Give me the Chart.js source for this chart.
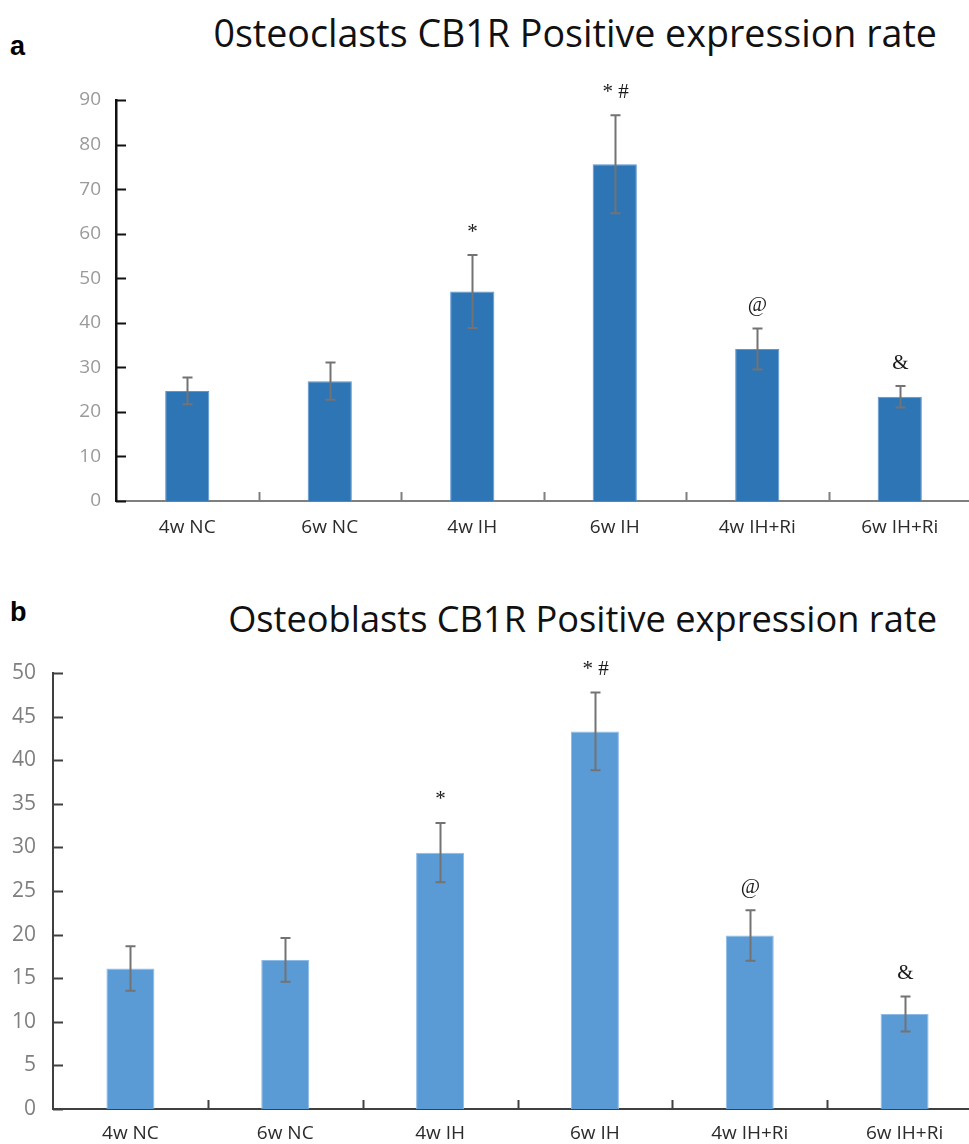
<!DOCTYPE html>
<html>
<head>
<meta charset="utf-8">
<script src="https://cdn.jsdelivr.net/npm/chart.js@4.4.1/dist/chart.umd.min.js"></script>
<style>
  html, body { margin:0; padding:0; width:969px; height:1144px; overflow:hidden; background:#fff; }
  .panel { position:absolute; left:0; }
  .letter { position:absolute; left:10px; font-family:"Liberation Sans", Arial, sans-serif; font-weight:bold; font-size:27px; color:#000; line-height:1; }
  .title { position:absolute; left:0; width:937px; text-align:right; font-family:"Open Sans", sans-serif; font-weight:400; color:#111; line-height:1; white-space:nowrap; }
</style>
</head>
<body>
<div class="letter" style="top:33px;">a</div>
<div class="title" id="titleA">0steoclasts CB1R Positive expression rate</div>
<div class="panel" style="top:0;"><canvas id="chartA" width="971" height="560"></canvas></div>

<div class="letter" style="top:599px;">b</div>
<div class="title" id="titleB">Osteoblasts CB1R Positive expression rate</div>
<div class="panel" style="top:572px;"><canvas id="chartB" width="982" height="572"></canvas></div>

<script>
// ---- data ----
const categories = ['4w NC', '6w NC', '4w IH', '6w IH', '4w IH+Ri', '6w IH+Ri'];
const osteoclastMeans  = [24.7, 26.9, 47.0, 75.6, 34.1, 23.4];
const osteoclastErrors = [3.0, 4.2, 8.2, 11.0, 4.6, 2.4];
const osteoclastMarks  = ['', '', '*', '* #', '@', '&'];
const osteoclastAxisMax = 90, osteoclastStep = 10;

const osteoblastMeans  = [16.1, 17.1, 29.4, 43.3, 19.9, 10.9];
const osteoblastErrors = [2.55, 2.5, 3.4, 4.45, 2.9, 2.0];
const osteoblastMarks  = ['', '', '*', '* #', '@', '&'];
const osteoblastAxisMax = 50, osteoblastStep = 5;

// ---- titles ----
function fitTitle(id, width, centerY) {
  const el = document.getElementById(id);
  const c = document.createElement('canvas').getContext('2d');
  c.font = '100px "Open Sans"';
  const w = c.measureText(el.textContent).width;
  const size = 100 * width / w;
  el.style.fontSize = size + 'px';
  el.style.top = (centerY - size * 0.55) + 'px';
}
fitTitle('titleA', 724, 35);
fitTitle('titleB', 709, 620);

// ---- decorations plugin: inward ticks, error bars, significance marks ----
const decor = {
  id: 'decor',
  afterDraw(chart, args, o) {
    const {ctx, scales: {x, y}} = chart;
    const means = chart.data.datasets[0].data;
    ctx.save();
    // y ticks (inward)
    ctx.strokeStyle = o.yTickColor; ctx.lineWidth = o.yTickWidth;
    y.ticks.forEach((t, i) => {
      const py = Math.round(y.getPixelForTick(i)) + 0.5;
      ctx.beginPath(); ctx.moveTo(y.right, py); ctx.lineTo(y.right + o.tickLen, py); ctx.stroke();
    });
    // x ticks at category boundaries (upward)
    ctx.strokeStyle = o.xTickColor; ctx.lineWidth = o.xTickWidth;
    const step = x.getPixelForValue(1) - x.getPixelForValue(0);
    for (let i = 1; i <= means.length; i++) {
      const bx = Math.round(x.getPixelForValue(i - 1) + step / 2) + 0.5;
      ctx.beginPath(); ctx.moveTo(bx, y.bottom); ctx.lineTo(bx, y.bottom - o.xTickLen); ctx.stroke();
    }
    // error bars
    ctx.strokeStyle = o.errColor; ctx.lineWidth = o.errWidth;
    means.forEach((m, i) => {
      const px = Math.round(x.getPixelForValue(i)) + 0.5;
      const top = y.getPixelForValue(m + o.errors[i]);
      const bot = y.getPixelForValue(m - o.errors[i]);
      ctx.beginPath();
      ctx.moveTo(px, top); ctx.lineTo(px, bot);
      ctx.moveTo(px - o.cap, top); ctx.lineTo(px + o.cap, top);
      ctx.moveTo(px - o.cap, bot); ctx.lineTo(px + o.cap, bot);
      ctx.stroke();
      if (o.marks[i]) {
        ctx.fillStyle = o.markColor;
        ctx.font = o.markFont;
        ctx.textAlign = 'center'; ctx.textBaseline = 'middle';
        ctx.fillText(o.marks[i], px, top - o.markOffset);
      }
    });
    ctx.restore();
  }
};

function makeChart(id, cfg) {
  return new Chart(document.getElementById(id), {
    type: 'bar',
    data: {
      labels: categories,
      datasets: [{
        data: cfg.means,
        backgroundColor: cfg.barColor,
        borderColor: cfg.barBorder,
        borderWidth: 1,
        borderSkipped: 'bottom',
        categoryPercentage: 1,
        barPercentage: 0.31
      }]
    },
    options: {
      responsive: false,
      animation: false,
      layout: { padding: { top: cfg.padTop, left: 0, right: 0, bottom: 0 } },
      plugins: {
        legend: { display: false },
        tooltip: { enabled: false },
        decor: {
          errors: cfg.errors, marks: cfg.marks,
          errColor: '#737373', errWidth: 2, cap: 5,
          markColor: '#1a1a1a', markFont: '21px "Liberation Serif", serif', markOffset: 23,
          yTickColor: cfg.yAxisColor, yTickWidth: 2, tickLen: 10,
          xTickColor: cfg.xAxisColor, xTickWidth: 2, xTickLen: 9
        }
      },
      scales: {
        x: {
          grid: { display: false, drawTicks: false },
          border: { display: true, color: cfg.xAxisColor, width: 2 },
          ticks: { color: '#2b2b2b', font: { family: 'Open Sans', size: 19 }, padding: cfg.xPad, maxRotation: 0, autoSkip: false },
          afterFit: s => { s.height = cfg.xHeight; }
        },
        y: {
          min: 0, max: cfg.max,
          grid: { display: false, drawTicks: false },
          border: { display: true, color: cfg.yAxisColor, width: cfg.yAxisWidth },
          ticks: { stepSize: cfg.step, color: cfg.yLabelColor, font: { family: 'Open Sans', size: cfg.yFont }, padding: cfg.yPad },
          afterFit: s => { s.width = cfg.yWidth; }
        }
      }
    },
    plugins: [decor]
  });
}

makeChart('chartA', {
  means: osteoclastMeans, errors: osteoclastErrors, marks: osteoclastMarks,
  max: osteoclastAxisMax, step: osteoclastStep,
  barColor: '#2E75B6', barBorder: '#5B96D0',
  padTop: 100, xHeight: 59, xPad: 15, yWidth: 116, yPad: 15, yFont: 19,
  yAxisColor: '#111', yAxisWidth: 2.5, xAxisColor: '#7f7f7f', yLabelColor: '#9a9a9a'
});

makeChart('chartB', {
  means: osteoblastMeans, errors: osteoblastErrors, marks: osteoblastMarks,
  max: osteoblastAxisMax, step: osteoblastStep,
  barColor: '#5B9BD5', barBorder: '#8DBBE6',
  padTop: 101, xHeight: 35, xPad: 13, yWidth: 53, yPad: 17, yFont: 21,
  yAxisColor: '#404040', yAxisWidth: 2, xAxisColor: '#404040', yLabelColor: '#7f7f7f'
});
</script>
</body>
</html>
